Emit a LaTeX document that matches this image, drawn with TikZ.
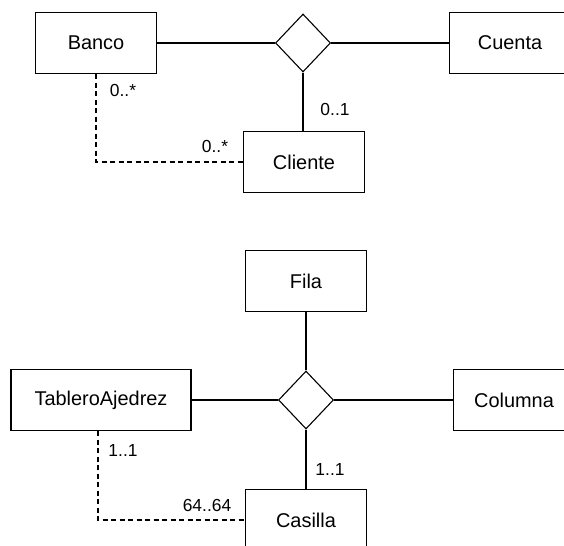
\documentclass[tikz,border=0pt]{standalone}
\usepackage{fontspec}
\setmainfont{Liberation Sans}
\usetikzlibrary{shapes.geometric}
\tikzset{entity/.style={rectangle,draw,minimum width=121bp,minimum height=61bp,inner sep=0pt,font=\fontsize{20}{24}\selectfont},
	relation/.style={diamond,draw,minimum width=55bp,minimum height=58bp,inner sep=0pt},
	mult/.style={font=\fontsize{17.5}{20}\selectfont,inner sep=0pt},
	link/.style={dash pattern=on 5bp off 3.5bp}}

\begin{document}
\begin{tikzpicture}[x=1bp,y=-1bp,line width=1.1pt]
	\useasboundingbox (0,0) rectangle (564,546);

	% bank, account and client
	\node (banco)	[entity] at	(96,43)	{Banco};
	\node (rel1)	[relation] at	(303,43)	{};
	\node (cuenta)	[entity] at	(510,43)	{Cuenta};
	\node (cliente)	[entity] at	(304,162)	{Cliente};

	\node [mult]	at	(123,91)	{0..*};
	\node [mult]	at	(215,146)	{0..*};
	\node [mult]	at	(335,109)	{0..1};

	\draw (banco) -- (rel1) -- (cuenta);
	\draw (rel1) -- (rel1 |- cliente.north);
	\draw [link] (banco.south) |- (cliente.west);

	% board, row, column and square
	\node (fila)	[entity] at	(306,281)	{Fila};
	\node (rel2)	[relation] at	(306,400)	{};
	\node (tablero)	[entity,minimum width=180bp] at	(101,400)	{TableroAjedrez};
	\node (columna)	[entity] at	(514,400)	{Columna};
	\node (casilla)	[entity] at	(306,520)	{Casilla};

	\node [mult]	at	(123,450)	{1..1};
	\node [mult]	at	(207,505)	{64..64};
	\node [mult]	at	(330,469)	{1..1};

	\draw (fila) -- (rel2) -- (casilla);
	\draw (tablero) -- (rel2) -- (columna);
	\draw [link] ([xshift=-3bp]tablero.south) |- (casilla.west);
\end{tikzpicture}
\end{document}
